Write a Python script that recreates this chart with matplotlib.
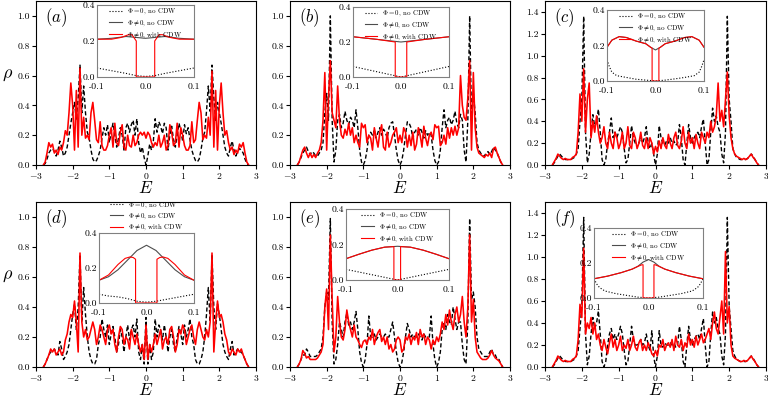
import numpy as np
import matplotlib
matplotlib.use("Agg")
import matplotlib.pyplot as plt

plt.rcParams["font.family"] = "cmr10"
plt.rcParams["mathtext.fontset"] = "cm"
plt.rcParams["axes.formatter.use_mathtext"] = True

# energy grid of the main panels, -2.8 ... 2.8 in steps of 0.05
E = np.linspace(-2.8, 2.8, 113)

# ---- main panels: dashed = Phi=0 no CDW, red = Phi!=0 with CDW ----
rho0_a = [0.0, 0.01, 0.04, 0.08, 0.10, 0.11, 0.09, 0.06, 0.10, 0.16,
          0.12, 0.06, 0.08, 0.12, 0.20, 0.28, 0.35, 0.42, 0.30, 0.45,
          0.67, 0.35, 0.53, 0.35, 0.22, 0.18, 0.10, 0.04, 0.02, 0.03,
          0.06, 0.10, 0.18, 0.25, 0.20, 0.27, 0.15, 0.22, 0.28, 0.20,
          0.12, 0.18, 0.25, 0.20, 0.10, 0.25, 0.28, 0.22, 0.27, 0.30,
          0.20, 0.31, 0.15, 0.08, 0.12, 0.05,
          0.0,
          0.06, 0.14, 0.10, 0.16, 0.31, 0.22,
          0.29, 0.26, 0.21, 0.28, 0.25, 0.10, 0.20, 0.26, 0.17, 0.12,
          0.20, 0.28, 0.23, 0.16, 0.27, 0.21, 0.25, 0.17, 0.10, 0.06,
          0.03, 0.02, 0.04, 0.10, 0.18, 0.22, 0.36, 0.53, 0.36, 0.67,
          0.45, 0.30, 0.42, 0.35, 0.28, 0.20, 0.12, 0.08, 0.06, 0.12,
          0.16, 0.10, 0.06, 0.09, 0.11, 0.10, 0.08, 0.04, 0.01, 0.0]
rho1_a = [0.0, 0.02, 0.08, 0.15, 0.12, 0.14, 0.08, 0.10, 0.07, 0.12,
          0.10, 0.15, 0.23, 0.20, 0.35, 0.55, 0.40, 0.10, 0.50, 0.12,
          0.65, 0.20, 0.32, 0.18, 0.20, 0.17, 0.35, 0.42, 0.30, 0.17,
          0.15, 0.29, 0.13, 0.10, 0.10, 0.13, 0.20, 0.25, 0.12, 0.28,
          0.15, 0.13, 0.22, 0.27, 0.12, 0.10, 0.20, 0.13, 0.12, 0.20,
          0.13, 0.15, 0.20, 0.22, 0.20, 0.22,
          0.18,
          0.22, 0.20, 0.15, 0.12, 0.15, 0.13,
          0.20, 0.12, 0.15, 0.20, 0.10, 0.13, 0.27, 0.22, 0.13, 0.15,
          0.28, 0.12, 0.25, 0.20, 0.13, 0.10, 0.10, 0.13, 0.29, 0.15,
          0.17, 0.30, 0.42, 0.35, 0.17, 0.20, 0.18, 0.32, 0.20, 0.63,
          0.12, 0.50, 0.10, 0.40, 0.55, 0.35, 0.20, 0.23, 0.15, 0.10,
          0.12, 0.07, 0.10, 0.08, 0.14, 0.12, 0.15, 0.08, 0.02, 0.0]

rho0_b = [0.0, 0.02, 0.05, 0.08, 0.10, 0.12, 0.09, 0.07, 0.09, 0.08,
          0.06, 0.06, 0.08, 0.10, 0.15, 0.35, 0.48, 0.30, 1.00, 0.30,
          0.02, 0.10, 0.30, 0.34, 0.25, 0.28, 0.36, 0.30, 0.27, 0.32,
          0.30, 0.25, 0.37, 0.25, 0.10, 0.02, 0.0, 0.03, 0.10, 0.20,
          0.22, 0.20, 0.23, 0.18, 0.22, 0.25, 0.20, 0.24, 0.22, 0.18,
          0.25, 0.28, 0.29, 0.20, 0.10, 0.03,
          0.0,
          0.03, 0.10, 0.20, 0.29, 0.28, 0.25,
          0.18, 0.22, 0.24, 0.20, 0.25, 0.22, 0.18, 0.23, 0.20, 0.22,
          0.20, 0.10, 0.03, 0.0, 0.02, 0.10, 0.25, 0.37, 0.25, 0.30,
          0.32, 0.27, 0.30, 0.36, 0.28, 0.25, 0.34, 0.30, 0.10, 0.02,
          0.30, 1.00, 0.30, 0.48, 0.35, 0.15, 0.10, 0.08, 0.06, 0.06,
          0.08, 0.09, 0.07, 0.09, 0.12, 0.10, 0.08, 0.05, 0.02, 0.0]
rho1_b = [0.0, 0.02, 0.06, 0.10, 0.12, 0.08, 0.05, 0.08, 0.05, 0.07,
          0.05, 0.08, 0.10, 0.15, 0.30, 0.62, 0.10, 0.45, 0.70, 0.35,
          0.30, 0.25, 0.53, 0.30, 0.20, 0.18, 0.24, 0.20, 0.28, 0.20,
          0.25, 0.15, 0.20, 0.15, 0.12, 0.28, 0.25, 0.27, 0.15, 0.20,
          0.18, 0.10, 0.25, 0.18, 0.12, 0.22, 0.27, 0.12, 0.10, 0.22,
          0.12, 0.15, 0.20, 0.22, 0.25, 0.15,
          0.20,
          0.15, 0.25, 0.22, 0.12, 0.20, 0.13,
          0.22, 0.10, 0.14, 0.25, 0.20, 0.12, 0.26, 0.18, 0.13, 0.20,
          0.22, 0.17, 0.27, 0.25, 0.26, 0.13, 0.15, 0.20, 0.14, 0.25,
          0.18, 0.25, 0.20, 0.26, 0.20, 0.25, 0.60, 0.40, 0.32, 0.30,
          0.45, 0.70, 0.10, 0.62, 0.25, 0.12, 0.08, 0.07, 0.06, 0.05,
          0.07, 0.06, 0.08, 0.05, 0.11, 0.12, 0.08, 0.05, 0.02, 0.0]

rho0_c = [0.0, 0.02, 0.05, 0.08, 0.10, 0.08, 0.06, 0.05, 0.05, 0.05,
          0.05, 0.06, 0.07, 0.10, 0.15, 0.40, 0.60, 1.36, 0.30, 0.02,
          0.10, 0.30, 0.46, 0.35, 0.40, 0.51, 0.30, 0.05, 0.0, 0.05,
          0.20, 0.30, 0.43, 0.25, 0.30, 0.25, 0.30, 0.35, 0.30, 0.15,
          0.02, 0.05, 0.20, 0.36, 0.25, 0.20, 0.20, 0.20, 0.25, 0.20,
          0.25, 0.35, 0.20, 0.15, 0.20, 0.10,
          0.0,
          0.10, 0.36, 0.25, 0.20, 0.18, 0.22,
          0.20, 0.25, 0.20, 0.22, 0.18, 0.20, 0.37, 0.25, 0.05, 0.0,
          0.20, 0.37, 0.25, 0.20, 0.25, 0.28, 0.30, 0.25, 0.35, 0.42,
          0.20, 0.0, 0.05, 0.30, 0.52, 0.40, 0.45, 0.35, 0.30, 0.10,
          0.02, 0.30, 1.36, 0.60, 0.40, 0.15, 0.10, 0.07, 0.06, 0.05,
          0.05, 0.05, 0.05, 0.06, 0.08, 0.10, 0.08, 0.05, 0.02, 0.0]
rho1_c = [0.0, 0.03, 0.06, 0.10, 0.08, 0.06, 0.05, 0.06, 0.05, 0.05,
          0.05, 0.07, 0.08, 0.10, 0.30, 0.65, 0.40, 0.88, 0.30, 0.60,
          0.75, 0.25, 0.40, 0.30, 0.45, 0.30, 0.20, 0.25, 0.35, 0.20,
          0.15, 0.30, 0.20, 0.15, 0.30, 0.25, 0.15, 0.20, 0.30, 0.15,
          0.20, 0.35, 0.18, 0.15, 0.30, 0.25, 0.15, 0.20, 0.30, 0.18,
          0.15, 0.25, 0.15, 0.25, 0.20, 0.10,
          0.17,
          0.12, 0.22, 0.15, 0.25, 0.18, 0.15,
          0.28, 0.20, 0.15, 0.25, 0.30, 0.18, 0.15, 0.22, 0.35, 0.20,
          0.15, 0.30, 0.20, 0.25, 0.15, 0.28, 0.20, 0.15, 0.30, 0.25,
          0.20, 0.30, 0.25, 0.40, 0.30, 0.35, 0.45, 0.75, 0.40, 0.50,
          0.35, 0.60, 0.85, 0.45, 0.25, 0.15, 0.10, 0.08, 0.07, 0.06,
          0.05, 0.06, 0.05, 0.06, 0.08, 0.10, 0.07, 0.05, 0.02, 0.0]

rho0_d = [0.0, 0.02, 0.05, 0.08, 0.10, 0.10, 0.12, 0.10, 0.08, 0.17,
          0.12, 0.05, 0.07, 0.10, 0.15, 0.25, 0.35, 0.42, 0.25, 0.40,
          0.75, 0.30, 0.53, 0.35, 0.20, 0.10, 0.05, 0.02, 0.02, 0.05,
          0.15, 0.20, 0.32, 0.25, 0.20, 0.28, 0.15, 0.22, 0.27, 0.20,
          0.10, 0.15, 0.25, 0.20, 0.10, 0.20, 0.28, 0.18, 0.25, 0.28,
          0.20, 0.32, 0.10, 0.05, 0.15, 0.02,
          0.33,
          0.02, 0.15, 0.05, 0.10, 0.32, 0.20,
          0.28, 0.25, 0.18, 0.28, 0.20, 0.10, 0.20, 0.25, 0.15, 0.10,
          0.20, 0.27, 0.22, 0.15, 0.28, 0.20, 0.25, 0.32, 0.20, 0.15,
          0.05, 0.02, 0.02, 0.05, 0.10, 0.20, 0.35, 0.53, 0.30, 0.75,
          0.40, 0.25, 0.42, 0.35, 0.25, 0.15, 0.10, 0.07, 0.05, 0.12,
          0.17, 0.08, 0.10, 0.12, 0.10, 0.10, 0.08, 0.05, 0.02, 0.0]
rho1_d = [0.0, 0.02, 0.05, 0.08, 0.12, 0.10, 0.12, 0.08, 0.10, 0.12,
          0.08, 0.10, 0.18, 0.22, 0.30, 0.35, 0.33, 0.44, 0.30, 0.10,
          0.76, 0.30, 0.20, 0.25, 0.18, 0.20, 0.25, 0.30, 0.25, 0.15,
          0.20, 0.28, 0.25, 0.20, 0.15, 0.25, 0.28, 0.22, 0.25, 0.15,
          0.10, 0.20, 0.27, 0.25, 0.15, 0.20, 0.18, 0.12, 0.25, 0.20,
          0.15, 0.22, 0.15, 0.10, 0.15, 0.05,
          0.28,
          0.05, 0.15, 0.10, 0.15, 0.22, 0.15,
          0.20, 0.25, 0.12, 0.18, 0.20, 0.15, 0.25, 0.27, 0.20, 0.10,
          0.15, 0.25, 0.22, 0.28, 0.25, 0.15, 0.20, 0.25, 0.28, 0.20,
          0.15, 0.25, 0.30, 0.25, 0.20, 0.18, 0.25, 0.20, 0.30, 0.76,
          0.10, 0.30, 0.44, 0.33, 0.35, 0.30, 0.22, 0.18, 0.10, 0.08,
          0.12, 0.10, 0.08, 0.12, 0.10, 0.12, 0.08, 0.05, 0.02, 0.0]

rho0_e = [0.0, 0.02, 0.05, 0.08, 0.08, 0.12, 0.10, 0.07, 0.07, 0.07,
          0.07, 0.08, 0.10, 0.12, 0.20, 0.40, 0.50, 0.45, 0.99, 0.30,
          0.02, 0.05, 0.15, 0.30, 0.25, 0.20, 0.30, 0.36, 0.28, 0.30,
          0.25, 0.30, 0.37, 0.25, 0.10, 0.03, 0.0, 0.05, 0.15, 0.34,
          0.20, 0.20, 0.22, 0.18, 0.20, 0.22, 0.20, 0.20, 0.22, 0.20,
          0.20, 0.25, 0.30, 0.20, 0.10, 0.03,
          0.0,
          0.03, 0.10, 0.20, 0.29, 0.25, 0.20,
          0.22, 0.20, 0.20, 0.22, 0.20, 0.18, 0.22, 0.20, 0.20, 0.20,
          0.34, 0.15, 0.05, 0.0, 0.03, 0.10, 0.25, 0.30, 0.25, 0.35,
          0.30, 0.28, 0.40, 0.32, 0.25, 0.30, 0.30, 0.15, 0.05, 0.02,
          0.30, 0.99, 0.45, 0.50, 0.40, 0.20, 0.12, 0.10, 0.08, 0.07,
          0.07, 0.07, 0.10, 0.12, 0.08, 0.08, 0.05, 0.05, 0.02, 0.0]
rho1_e = [0.0, 0.02, 0.05, 0.11, 0.09, 0.06, 0.07, 0.05, 0.05, 0.05,
          0.05, 0.06, 0.08, 0.10, 0.15, 0.40, 0.52, 0.25, 0.88, 0.45,
          0.10, 0.20, 0.47, 0.30, 0.20, 0.18, 0.25, 0.38, 0.30, 0.25,
          0.20, 0.28, 0.20, 0.18, 0.15, 0.13, 0.17, 0.18, 0.15, 0.20,
          0.18, 0.25, 0.15, 0.20, 0.23, 0.25, 0.17, 0.20, 0.15, 0.20,
          0.12, 0.15, 0.10, 0.12, 0.18, 0.20,
          0.18,
          0.10, 0.12, 0.20, 0.18, 0.22, 0.15,
          0.20, 0.18, 0.23, 0.15, 0.25, 0.20, 0.22, 0.15, 0.20, 0.18,
          0.12, 0.18, 0.15, 0.20, 0.17, 0.22, 0.30, 0.25, 0.35, 0.28,
          0.38, 0.30, 0.25, 0.35, 0.40, 0.30, 0.35, 0.47, 0.30, 0.20,
          0.40, 0.88, 0.30, 0.45, 0.20, 0.10, 0.08, 0.06, 0.05, 0.05,
          0.05, 0.06, 0.08, 0.11, 0.08, 0.06, 0.05, 0.04, 0.02, 0.0]

rho0_f = [0.0, 0.02, 0.05, 0.08, 0.10, 0.08, 0.06, 0.05, 0.05, 0.05,
          0.05, 0.06, 0.07, 0.10, 0.15, 0.35, 0.55, 1.36, 0.30, 0.02,
          0.10, 0.30, 0.45, 0.35, 0.40, 0.51, 0.30, 0.05, 0.0, 0.05,
          0.20, 0.30, 0.35, 0.25, 0.30, 0.25, 0.30, 0.37, 0.30, 0.15,
          0.02, 0.05, 0.20, 0.37, 0.25, 0.20, 0.20, 0.22, 0.25, 0.20,
          0.22, 0.30, 0.20, 0.15, 0.33, 0.10,
          0.0,
          0.10, 0.33, 0.20, 0.18, 0.22, 0.20,
          0.20, 0.22, 0.20, 0.22, 0.18, 0.20, 0.37, 0.25, 0.05, 0.0,
          0.20, 0.37, 0.25, 0.20, 0.25, 0.28, 0.30, 0.25, 0.35, 0.44,
          0.20, 0.0, 0.05, 0.30, 0.50, 0.40, 0.45, 0.35, 0.30, 0.10,
          0.02, 0.30, 1.36, 0.55, 0.35, 0.15, 0.10, 0.07, 0.06, 0.05,
          0.05, 0.05, 0.05, 0.06, 0.08, 0.10, 0.08, 0.05, 0.02, 0.0]
rho1_f = [0.0, 0.03, 0.06, 0.10, 0.08, 0.06, 0.05, 0.06, 0.05, 0.05,
          0.05, 0.07, 0.08, 0.10, 0.25, 0.57, 0.45, 1.08, 0.30, 0.40,
          0.35, 0.45, 0.30, 0.40, 0.25, 0.30, 0.20, 0.15, 0.25, 0.18,
          0.12, 0.22, 0.30, 0.18, 0.25, 0.15, 0.20, 0.28, 0.15, 0.20,
          0.17, 0.25, 0.15, 0.20, 0.28, 0.18, 0.15, 0.22, 0.25, 0.15,
          0.20, 0.15, 0.22, 0.18, 0.12, 0.10,
          0.15,
          0.10, 0.20, 0.18, 0.25, 0.15, 0.20,
          0.22, 0.18, 0.25, 0.15, 0.28, 0.20, 0.18, 0.25, 0.15, 0.22,
          0.18, 0.30, 0.20, 0.25, 0.18, 0.28, 0.20, 0.25, 0.30, 0.22,
          0.25, 0.30, 0.35, 0.25, 0.40, 0.50, 0.35, 0.30, 0.45, 0.60,
          0.30, 1.05, 0.40, 0.55, 0.20, 0.10, 0.08, 0.07, 0.06, 0.05,
          0.05, 0.06, 0.05, 0.06, 0.08, 0.10, 0.07, 0.05, 0.02, 0.0]

# ---- insets: zoom around E = 0 ----
# (x, y) pairs: dotted = Phi=0 no CDW, gray = Phi!=0 no CDW, red = Phi!=0 with CDW
ins_a_x0 = [-0.1, -0.08, -0.06, -0.04, -0.02, 0.0, 0.02, 0.04, 0.06, 0.08, 0.1]
ins_a_y0 = [0.05, 0.04, 0.03, 0.02, 0.008, 0.003, 0.008, 0.02, 0.03, 0.04, 0.05]
ins_a_x1 = [-0.1, -0.07, -0.04, -0.02, 0.0, 0.02, 0.04, 0.07, 0.1]
ins_a_y1 = [0.21, 0.215, 0.225, 0.22, 0.215, 0.22, 0.225, 0.215, 0.21]
ins_a_x2 = [-0.1, -0.07, -0.05, -0.035, -0.028, -0.019, -0.019, 0.019, 0.019, 0.028, 0.035, 0.05, 0.07, 0.1]
ins_a_y2 = [0.21, 0.21, 0.22, 0.235, 0.235, 0.2, 0.0, 0.0, 0.2, 0.235, 0.235, 0.22, 0.21, 0.21]

ins_b_x0 = [-0.1, -0.05, 0.0, 0.05, 0.1]
ins_b_y0 = [0.06, 0.03, 0.0, 0.03, 0.06]
ins_b_x1 = [-0.1, -0.05, 0.0, 0.05, 0.1]
ins_b_y1 = [0.23, 0.215, 0.2, 0.215, 0.23]
ins_b_x2 = [-0.1, -0.05, -0.012, -0.012, 0.012, 0.012, 0.05, 0.1]
ins_b_y2 = [0.23, 0.215, 0.2, 0.0, 0.0, 0.2, 0.215, 0.23]

ins_c_x0 = [-0.1, -0.095, -0.09, -0.08, -0.06, -0.04, -0.02, 0.0, 0.02, 0.04, 0.06, 0.08, 0.09, 0.095, 0.1]
ins_c_y0 = [0.12, 0.08, 0.05, 0.03, 0.02, 0.01, 0.005, 0.0, 0.005, 0.012, 0.02, 0.03, 0.05, 0.08, 0.12]
ins_c_x1 = [-0.1, -0.09, -0.075, -0.06, -0.05, -0.04, -0.02, -0.01, 0.0, 0.01, 0.02, 0.04, 0.05, 0.06, 0.075, 0.09, 0.1]
ins_c_y1 = [0.19, 0.23, 0.25, 0.245, 0.235, 0.225, 0.21, 0.19, 0.175, 0.19, 0.21, 0.225, 0.235, 0.245, 0.25, 0.23, 0.19]
ins_c_x2 = [-0.1, -0.09, -0.075, -0.06, -0.05, -0.04, -0.02, -0.01, -0.007, -0.007, 0.007, 0.007, 0.01, 0.02, 0.04, 0.05, 0.06, 0.075, 0.09, 0.1]
ins_c_y2 = [0.19, 0.23, 0.25, 0.245, 0.235, 0.225, 0.21, 0.19, 0.185, 0.0, 0.0, 0.185, 0.19, 0.21, 0.225, 0.235, 0.245, 0.25, 0.23, 0.19]

ins_d_x0 = [-0.1, -0.08, -0.06, -0.04, -0.02, 0.0, 0.02, 0.04, 0.06, 0.08, 0.1]
ins_d_y0 = [0.05, 0.04, 0.035, 0.025, 0.01, 0.005, 0.01, 0.02, 0.03, 0.04, 0.05]
ins_d_x1 = [-0.1, -0.08, -0.06, -0.04, -0.02, 0.0, 0.02, 0.04, 0.06, 0.08, 0.1]
ins_d_y1 = [0.13, 0.15, 0.19, 0.245, 0.30, 0.33, 0.30, 0.245, 0.19, 0.15, 0.13]
ins_d_x2 = [-0.1, -0.08, -0.06, -0.045, -0.035, -0.028, -0.023, -0.023, 0.022, 0.022, 0.028, 0.035, 0.045, 0.06, 0.08, 0.1]
ins_d_y2 = [0.13, 0.16, 0.22, 0.255, 0.263, 0.26, 0.25, 0.0, 0.0, 0.25, 0.26, 0.263, 0.255, 0.22, 0.16, 0.13]

ins_e_x0 = [-0.1, -0.05, 0.0, 0.05, 0.1]
ins_e_y0 = [0.06, 0.03, 0.0, 0.03, 0.06]
ins_e_x1 = [-0.1, -0.075, -0.05, -0.025, 0.0, 0.025, 0.05, 0.075, 0.1]
ins_e_y1 = [0.12, 0.145, 0.168, 0.185, 0.19, 0.185, 0.168, 0.145, 0.12]
ins_e_x2 = [-0.1, -0.075, -0.05, -0.025, -0.007, -0.007, 0.006, 0.006, 0.025, 0.05, 0.075, 0.1]
ins_e_y2 = [0.12, 0.145, 0.168, 0.185, 0.188, 0.0, 0.0, 0.188, 0.185, 0.168, 0.145, 0.12]

ins_f_x0 = [-0.1, -0.095, -0.09, -0.08, -0.06, -0.04, -0.02, 0.0, 0.02, 0.04, 0.06, 0.08, 0.09, 0.095, 0.1]
ins_f_y0 = [0.11, 0.08, 0.06, 0.04, 0.025, 0.015, 0.005, 0.0, 0.005, 0.015, 0.025, 0.04, 0.06, 0.08, 0.11]
ins_f_x1 = [-0.1, -0.075, -0.05, -0.03, -0.02, -0.01, 0.0, 0.01, 0.02, 0.03, 0.05, 0.075, 0.1]
ins_f_y1 = [0.11, 0.125, 0.145, 0.165, 0.18, 0.205, 0.22, 0.205, 0.18, 0.165, 0.145, 0.125, 0.11]
ins_f_x2 = [-0.1, -0.075, -0.05, -0.03, -0.02, -0.012, -0.01, -0.01, 0.01, 0.01, 0.012, 0.02, 0.03, 0.05, 0.075, 0.1]
ins_f_y2 = [0.11, 0.125, 0.145, 0.165, 0.18, 0.19, 0.19, 0.0, 0.0, 0.19, 0.19, 0.18, 0.165, 0.145, 0.125, 0.11]

labels = ["a", "b", "c", "d", "e", "f"]
legend_labels = [r"$\Phi = 0$, no CDW", r"$\Phi \neq 0$, no CDW", r"$\Phi \neq 0$, with CDW"]

main_data = [(rho0_a, rho1_a), (rho0_b, rho1_b), (rho0_c, rho1_c),
             (rho0_d, rho1_d), (rho0_e, rho1_e), (rho0_f, rho1_f)]
inset_data = [
    (ins_a_x0, ins_a_y0, ins_a_x1, ins_a_y1, ins_a_x2, ins_a_y2),
    (ins_b_x0, ins_b_y0, ins_b_x1, ins_b_y1, ins_b_x2, ins_b_y2),
    (ins_c_x0, ins_c_y0, ins_c_x1, ins_c_y1, ins_c_x2, ins_c_y2),
    (ins_d_x0, ins_d_y0, ins_d_x1, ins_d_y1, ins_d_x2, ins_d_y2),
    (ins_e_x0, ins_e_y0, ins_e_x1, ins_e_y1, ins_e_x2, ins_e_y2),
    (ins_f_x0, ins_f_y0, ins_f_x1, ins_f_y1, ins_f_x2, ins_f_y2),
]
ymax = [1.1, 1.1, 1.5, 1.1, 1.1, 1.5]

W, H = 768, 397
fig = plt.figure(figsize=(W / 100, H / 100), dpi=100)

# pixel boxes (left, top, right, bottom)
main_boxes = [(36, 1, 256, 165), (290, 1, 510, 165), (545, 1, 766, 165),
              (36, 202, 256, 367), (290, 202, 510, 367), (545, 202, 766, 367)]
inset_boxes = [(97, 5, 194, 77), (353, 7, 449, 77), (607, 10, 704, 81),
               (99, 233, 194, 303), (346, 209, 449, 280), (594, 228, 703, 298)]


def px_axes(box):
    l, t, r, b = box
    return fig.add_axes([l / W, 1 - b / H, (r - l) / W, (b - t) / H])


for i in range(6):
    ax = px_axes(main_boxes[i])
    r0, r1 = main_data[i]
    ax.plot(E, r0, color="k", linestyle=(0, (3.0, 1.8)), lw=1.0)
    ax.plot(E, r1, color="red", lw=1.15)
    ax.set_xlim(-3, 3)
    ax.set_ylim(0, ymax[i])
    ax.set_xticks([-3, -2, -1, 0, 1, 2, 3])
    if ymax[i] > 1.2:
        ax.set_yticks(np.arange(0, 1.41, 0.2))
    else:
        ax.set_yticks(np.arange(0, 1.01, 0.2))
    ax.yaxis.set_major_formatter(matplotlib.ticker.FormatStrFormatter("%.1f"))
    ax.tick_params(direction="out", length=3, width=0.8, labelsize=7, pad=1.5)
    ax.set_xlabel(r"$E$", fontsize=12.5, labelpad=-1)
    if i % 3 == 0:
        ax.set_ylabel(r"$\rho$", fontsize=13, rotation=0)
        ax.yaxis.set_label_coords(-0.13, 0.5)
    ax.text(0.04, 0.965, r"$(%s)$" % labels[i], transform=ax.transAxes,
            fontsize=12, va="top", ha="left")

    axi = px_axes(inset_boxes[i])
    x0, y0, x1, y1, x2, y2 = inset_data[i]
    axi.plot(x0, y0, color="k", linestyle=":", lw=0.8, label=legend_labels[0])
    axi.plot(x1, y1, color="0.3", lw=0.8, label=legend_labels[1])
    axi.plot(x2, y2, color="red", lw=0.8, label=legend_labels[2])
    axi.set_xlim(-0.1, 0.1)
    axi.set_ylim(0, 0.4)
    axi.set_xticks([-0.1, 0.0, 0.1])
    axi.set_xticklabels(["-0.1", "0.0", "0.1"])
    axi.set_yticks([0.0, 0.2, 0.4])
    axi.set_yticklabels(["0.0", "0.2", "0.4"])
    axi.tick_params(length=0, labelsize=7)
    axi.tick_params(axis="x", pad=3.8)
    axi.tick_params(axis="y", pad=1)
    for s in axi.spines.values():
        s.set_color("0.5")
        s.set_linewidth(0.8)
    if i == 3:
        axi.legend(loc="lower center", bbox_to_anchor=(0.5, 1.0), frameon=False,
                   fontsize=5, handlelength=1.8, handletextpad=0.7,
                   labelspacing=0.25, borderaxespad=0.0, borderpad=0.1)
    else:
        axi.legend(loc="upper center", frameon=False, fontsize=5,
                   handlelength=1.8, handletextpad=0.7, labelspacing=0.3,
                   borderaxespad=0.15, borderpad=0.1)

fig.savefig("out.png", dpi=100)
